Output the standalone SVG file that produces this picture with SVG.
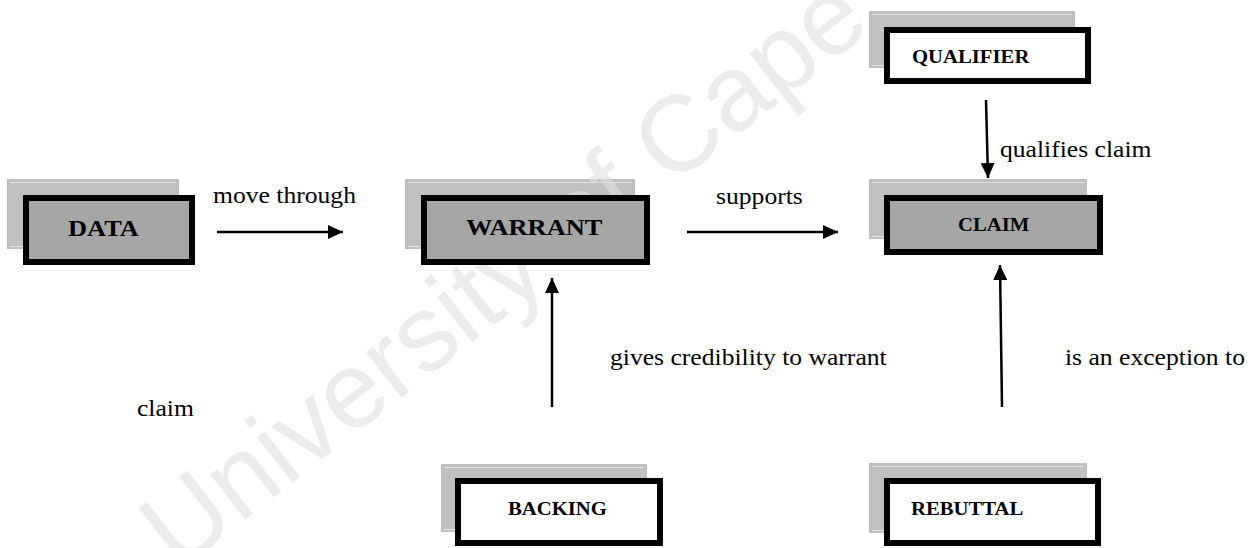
<svg xmlns="http://www.w3.org/2000/svg" width="1257" height="548" viewBox="0 0 1257 548">
  <style>
    .shadow { fill: #c0c0c0; }
    .hl { stroke: #e4e4e4; stroke-width: 1; }
    .box { stroke: #000; stroke-width: 6; }
    .grey { fill: #a6a6a6; }
    .white { fill: #fff; }
    .lbl { font-family: "Liberation Serif", "Times New Roman", serif; font-weight: bold; fill: #000; }
    .big { font-size: 24px; }
    .small { font-size: 18.5px; }
    .txt { font-family: "Liberation Serif", "Times New Roman", serif; font-size: 23.5px; fill: #000; }
    .wire { stroke: #000; stroke-width: 2.5; fill: none; marker-end: url(#ah); }
    .wm { font-family: "Liberation Sans", Arial, sans-serif; font-size: 108px; fill: #e0e0e0; fill-opacity: 0.6; }
  </style>
  <defs>
    <marker id="ah" markerWidth="16" markerHeight="14" refX="15" refY="7" orient="auto" markerUnits="userSpaceOnUse">
      <path d="M0,0 L15,7 L0,14 z" fill="#000"/>
    </marker>
  </defs>
  <rect width="1257" height="548" fill="#fff"/>

  <!-- offset shadow panels behind each box -->
  <g id="shadows">
    <rect class="shadow" x="7" y="179" width="172" height="70"/>
    <line class="hl" x1="10" y1="182.5" x2="176" y2="182.5"/>
    <line class="hl" x1="10" y1="246.5" x2="176" y2="246.5"/>
    <rect class="shadow" x="405" y="179" width="230" height="70"/>
    <line class="hl" x1="408" y1="182.5" x2="632" y2="182.5"/>
    <line class="hl" x1="408" y1="246.5" x2="632" y2="246.5"/>
    <rect class="shadow" x="869" y="179" width="218" height="60"/>
    <line class="hl" x1="872" y1="182.5" x2="1084" y2="182.5"/>
    <line class="hl" x1="872" y1="236.5" x2="1084" y2="236.5"/>
    <rect class="shadow" x="869" y="11" width="206" height="57"/>
    <line class="hl" x1="872" y1="14.5" x2="1072" y2="14.5"/>
    <line class="hl" x1="872" y1="65.5" x2="1072" y2="65.5"/>
    <rect class="shadow" x="441" y="464" width="206" height="68"/>
    <line class="hl" x1="444" y1="467.5" x2="644" y2="467.5"/>
    <line class="hl" x1="444" y1="529.5" x2="644" y2="529.5"/>
    <rect class="shadow" x="869" y="463" width="218" height="70"/>
    <line class="hl" x1="872" y1="466.5" x2="1084" y2="466.5"/>
    <line class="hl" x1="872" y1="530.5" x2="1084" y2="530.5"/>
  </g>

  <!-- faint diagonal watermark -->
  <g id="watermark">
    <text class="wm" transform="translate(178,572) rotate(-38)">University of Cape Town</text>
  </g>

  <g id="data">
    <rect class="box grey" x="26" y="198" width="166" height="64"/>
    <text class="lbl big" transform="translate(68,236) scale(1.1,1)">DATA</text>
  </g>
  <g id="warrant">
    <rect class="box grey" x="424" y="198" width="223" height="64"/>
    <text class="lbl big" transform="translate(466,235) scale(1.1,1)">WARRANT</text>
  </g>
  <g id="claim">
    <rect class="box grey" x="887" y="198" width="213" height="54"/>
    <text class="lbl small" transform="translate(958,231) scale(1.12,1)">CLAIM</text>
  </g>
  <g id="qualifier">
    <rect class="box white" x="887" y="30" width="201" height="51"/>
    <text class="lbl small" transform="translate(912,63) scale(1.12,1)">QUALIFIER</text>
  </g>
  <g id="backing">
    <rect class="box white" x="458" y="481" width="202" height="62"/>
    <text class="lbl small" transform="translate(508,515) scale(1.12,1)">BACKING</text>
  </g>
  <g id="rebuttal">
    <rect class="box white" x="887" y="481" width="211" height="62"/>
    <text class="lbl small" transform="translate(911,515) scale(1.12,1)">REBUTTAL</text>
  </g>

  <g id="connectors">
    <path class="wire" d="M217,232 L343,232"/>
    <path class="wire" d="M687,232 L838,232"/>
    <path class="wire" d="M986,100 L988,178"/>
    <path class="wire" d="M552,407 L552,278"/>
    <path class="wire" d="M1002,407 L1000,265"/>
  </g>

  <g id="labels">
    <text class="txt" transform="translate(213,203) scale(1.09,1)">move through</text>
    <text class="txt" transform="translate(716,204) scale(1.09,1)">supports</text>
    <text class="txt" transform="translate(1000,157) scale(1.09,1)">qualifies claim</text>
    <text class="txt" transform="translate(610,365) scale(1.09,1)">gives credibility to warrant</text>
    <text class="txt" transform="translate(1065,365) scale(1.09,1)">is an exception to</text>
    <text class="txt" transform="translate(137,416) scale(1.09,1)">claim</text>
  </g>
</svg>
